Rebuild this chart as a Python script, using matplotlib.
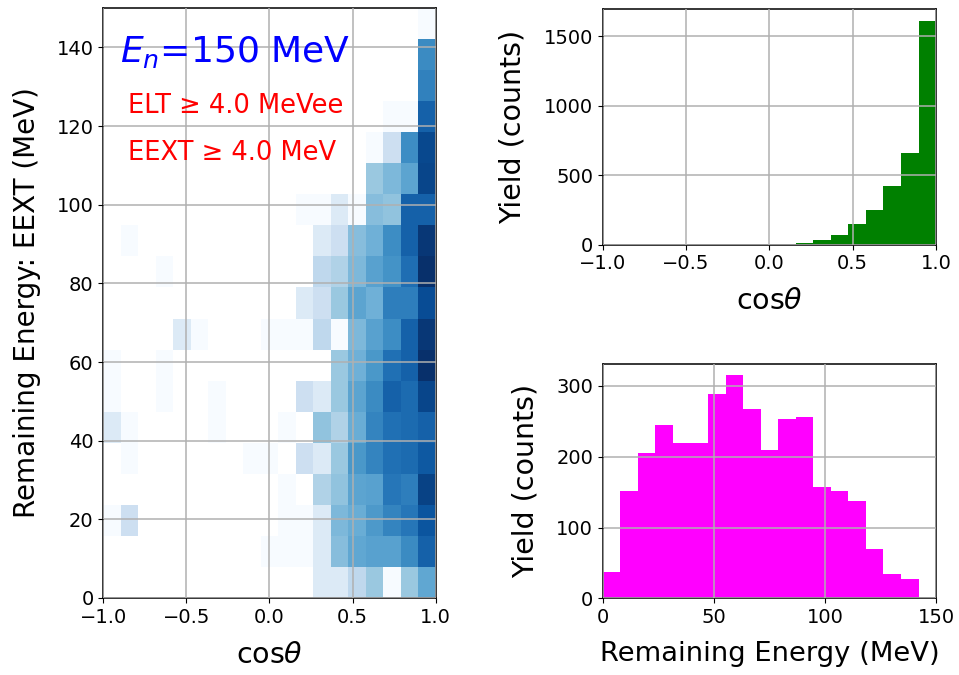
import numpy as np
import matplotlib
matplotlib.use("Agg")
import matplotlib.pyplot as plt
from matplotlib.colors import LogNorm

plt.rcParams['font.family'] = ['DejaVu Sans']
plt.rcParams['axes.unicode_minus'] = True

# binning: 19 bins in cos(theta) and 19 bins in remaining energy
cos_edges = np.linspace(-1.0, 1.0, 20)
energy_edges = np.linspace(0.0, 150.0, 20)

# 2D counts, one row per energy bin (low -> high), one column per cos bin
counts_2d = [
    [0, 0, 0, 0, 0, 0, 0, 0, 0, 0, 0, 0, 2, 2, 4, 7, 1, 7, 15],
    [0, 0, 0, 0, 0, 0, 0, 0, 0, 1, 1, 1, 2, 9, 15, 17, 17, 27, 61],
    [1, 3, 0, 0, 0, 0, 0, 0, 0, 0, 1, 1, 2, 10, 13, 20, 31, 40, 78],
    [0, 0, 0, 0, 0, 0, 0, 0, 0, 0, 1, 0, 5, 8, 16, 17, 40, 35, 112],
    [0, 1, 0, 0, 0, 0, 0, 0, 1, 1, 0, 3, 2, 7, 21, 31, 45, 50, 71],
    [2, 1, 0, 0, 0, 0, 1, 0, 0, 0, 1, 0, 8, 5, 13, 31, 45, 50, 61],
    [1, 0, 0, 1, 0, 0, 1, 0, 0, 0, 0, 3, 2, 7, 16, 27, 61, 50, 107],
    [1, 0, 0, 1, 0, 0, 0, 0, 0, 0, 0, 0, 0, 7, 12, 21, 45, 61, 160],
    [0, 0, 0, 0, 2, 1, 0, 0, 0, 1, 1, 1, 4, 1, 10, 17, 26, 61, 137],
    [0, 0, 0, 0, 0, 0, 0, 0, 0, 0, 0, 2, 3, 7, 16, 12, 35, 35, 92],
    [0, 0, 0, 1, 0, 0, 0, 0, 0, 0, 0, 0, 4, 5, 10, 17, 23, 47, 160],
    [0, 1, 0, 0, 0, 0, 0, 0, 0, 0, 0, 0, 2, 3, 9, 12, 26, 61, 137],
    [0, 0, 0, 0, 0, 0, 0, 0, 0, 0, 0, 1, 1, 2, 1, 9, 8, 61, 61],
    [0, 0, 0, 0, 0, 0, 0, 0, 0, 0, 0, 0, 0, 0, 0, 7, 10, 16, 107],
    [0, 0, 0, 0, 0, 0, 0, 0, 0, 0, 0, 0, 0, 0, 0, 1, 3, 26, 101],
    [0, 0, 0, 0, 0, 0, 0, 0, 0, 0, 0, 0, 0, 0, 0, 0, 1, 1, 61],
    [0, 0, 0, 0, 0, 0, 0, 0, 0, 0, 0, 0, 0, 0, 0, 0, 0, 0, 33],
    [0, 0, 0, 0, 0, 0, 0, 0, 0, 0, 0, 0, 0, 0, 0, 0, 0, 0, 27],
    [0, 0, 0, 0, 0, 0, 0, 0, 0, 0, 0, 0, 0, 0, 0, 0, 0, 0, 1],
]

# projected yields
cos_yield = [0, 0, 0, 0, 0, 0, 0, 0, 0, 0, 0, 10, 36, 69, 148, 246, 423, 658, 1612]
energy_yield = [37, 151, 205, 245, 220, 219, 288, 315, 267, 210, 253, 256,
                157, 151, 137, 69, 34, 27, 0]

fig = plt.figure(figsize=(9.59, 6.75), dpi=100)

ax2d = fig.add_axes([0.1077, 0.1141, 0.3466, 0.874])
ax_cos = fig.add_axes([0.6285, 0.6375, 0.3476, 0.3487])
ax_en = fig.add_axes([0.6285, 0.1136, 0.3476, 0.3470])

# 2D histogram on a log colour scale, empty bins left blank
h = np.ma.masked_equal(np.array(counts_2d), 0)
ax2d.pcolormesh(cos_edges, energy_edges, h, cmap='Blues', norm=LogNorm())
ax2d.set_xlim(-1, 1)
ax2d.set_ylim(0, 150)
ax2d.set_xlabel(r'cos$\theta$', fontsize=20.5, labelpad=10)
ax2d.set_ylabel('Remaining Energy: EEXT (MeV)', fontsize=20, labelpad=11)
ax2d.text(0.05, 0.925, r'$E_n$=150 MeV', color='blue', fontsize=26,
          transform=ax2d.transAxes, va='center')
ax2d.text(0.075, 0.834, 'ELT ≥ 4.0 MeVee', color='red', fontsize=18.5,
          transform=ax2d.transAxes, va='center')
ax2d.text(0.075, 0.754, 'EEXT ≥ 4.0 MeV', color='red', fontsize=18.5,
          transform=ax2d.transAxes, va='center')

# cos(theta) projection
ax_cos.bar(cos_edges[:-1], cos_yield, width=np.diff(cos_edges), align='edge',
           color='green', linewidth=0)
ax_cos.set_xlim(-1, 1)
ax_cos.set_xlabel(r'cos$\theta$', fontsize=20.5, labelpad=10)
ax_cos.set_ylabel('Yield (counts)', fontsize=20.5, labelpad=12)

# remaining energy projection
ax_en.bar(energy_edges[:-1], energy_yield, width=np.diff(energy_edges), align='edge',
          color='magenta', linewidth=0)
ax_en.set_xlim(0, 150)
ax_en.set_xlabel('Remaining Energy (MeV)', fontsize=19.7, labelpad=10)
ax_en.set_ylabel('Yield (counts)', fontsize=20.5, labelpad=12)

for ax in (ax2d, ax_cos, ax_en):
    ax.grid(True, color='#b0b0b0', linewidth=1.1)
    ax.set_axisbelow(False)
    ax.tick_params(labelsize=14)
    for s in ax.spines.values():
        s.set_linewidth(1.1)

ax_cos.set_xticks([-1.0, -0.5, 0.0, 0.5, 1.0])
ax_cos.set_ylim(0, 1612 * 1.05)
ax_en.set_ylim(0, 315 * 1.05)

fig.savefig('out.png', dpi=100)
